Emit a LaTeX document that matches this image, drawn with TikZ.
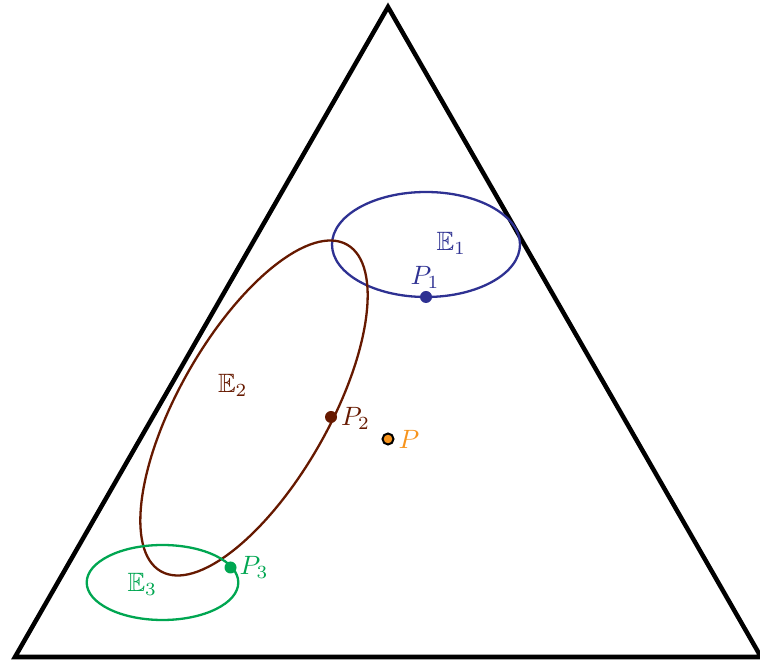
\documentclass[tikz,border=0pt]{standalone}
\usepackage{amssymb}
\definecolor{eblue}{RGB}{46,49,146}
\definecolor{ebrown}{RGB}{102,25,0}
\definecolor{egreen}{RGB}{0,166,81}
\definecolor{eorange}{RGB}{247,148,29}
\begin{document}
\begin{tikzpicture}[x=1pt,y=1pt,
  tri/.style={line width=4.5pt, line join=miter},
  ell/.style={line width=2.3pt},
  dot/.style={circle, inner sep=0pt, minimum size=12pt},
  lab/.style={inner sep=0pt, scale=2.65}]
\useasboundingbox (0,0) rectangle (760,661);
% triangle
\coordinate (A) at (388,654);
\coordinate (B) at (15,4);
\coordinate (C) at (761,4);
\draw[tri] (A) -- (B) -- (C) -- cycle;
% ellipses
\coordinate (c1) at (426,416.5);
\coordinate (c2) at (254,253);
\coordinate (c3) at (162.5,78.5);
\draw[ell, eblue] (c1) ellipse [x radius=94, y radius=52.5];
\draw[ell, ebrown] (c2) ellipse [x radius=188, y radius=75, rotate=60.3];
\draw[ell, egreen] (c3) ellipse [x radius=75.8, y radius=37.5];
% points
\node[dot, fill=eblue] (P1) at (426,364) {};
\node[dot, fill=ebrown] (P2) at (331,244) {};
\node[dot, fill=egreen] (P3) at (230.5,93.5) {};
\node[dot, fill=eorange, draw=black, line width=2pt, minimum size=11pt] (P) at (388,222) {};
% labels
\node[lab, text=eblue, anchor=base] (lP1) at (425,376.5) {$P_1$};
\node[lab, text=eblue, anchor=base west] (lE1) at (436,410) {$\mathbb{E}_1$};
\node[lab, text=ebrown, anchor=base west] (lE2) at (217.5,268.7) {$\mathbb{E}_2$};
\node[lab, text=ebrown, anchor=base west] (lP2) at (340.5,235.3) {$P_2$};
\node[lab, text=eorange, anchor=base west] (lP) at (398,212.7) {$P$};
\node[lab, text=egreen, anchor=base west] (lP3) at (239,86) {$P_3$};
\node[lab, text=egreen, anchor=base west] (lE3) at (127,69.3) {$\mathbb{E}_3$};
\end{tikzpicture}
\end{document}
